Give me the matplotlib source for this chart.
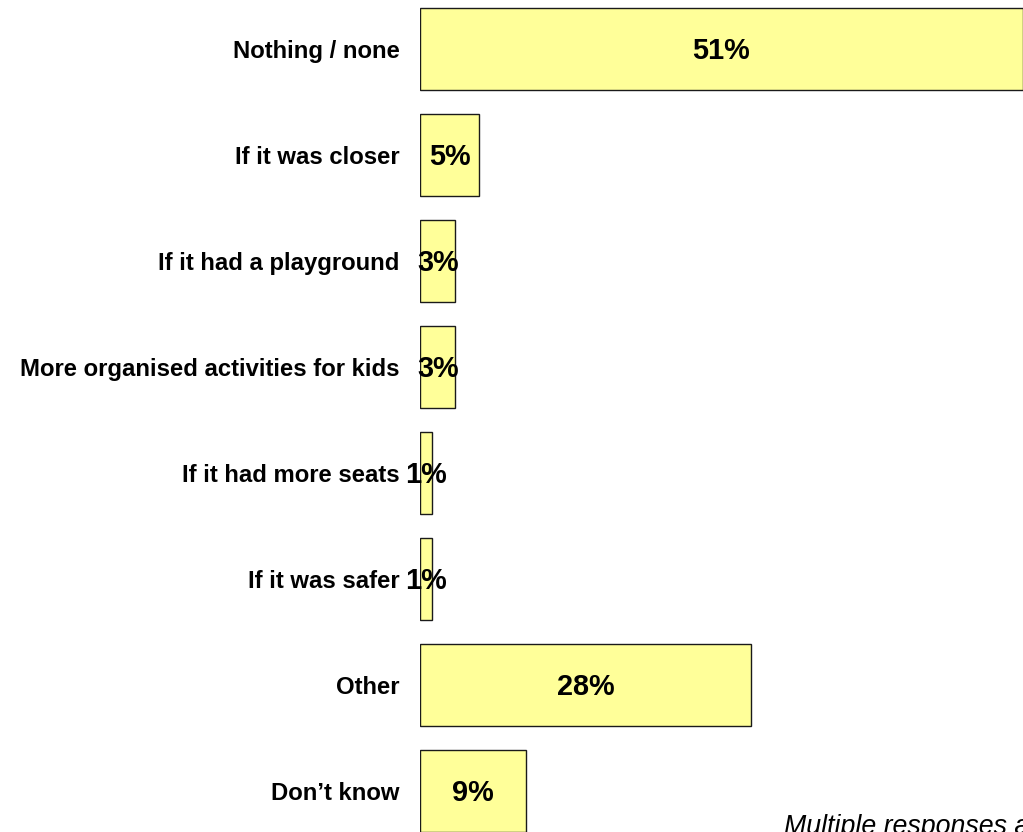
import matplotlib.pyplot as plt

plt.rcParams['font.family'] = ['Liberation Sans', 'DejaVu Sans']

categories = ['Nothing / none', 'If it was closer', 'If it had a playground',
              'More organised activities for kids', 'If it had more seats',
              'If it was safer', 'Other', 'Don\u2019t know']
values = [51, 5, 3, 3, 1, 1, 28, 9]

W, H = 1023, 832
fig = plt.figure(figsize=(W / 100, H / 100), dpi=100)
# axes runs a little past the bottom edge so the last bar gets cut off
ax = fig.add_axes([420 / W, (832 - 844) / H, (1023 - 420) / W, 848 / H])

y = list(range(len(categories)))
ax.barh(y, values, height=0.774, color='#FFFF99', edgecolor='#1a1a1a', linewidth=1.0)

for yi, v in zip(y, values):
    ax.text(v / 2, yi + 0.02, f'{v}%', ha='center', va='center',
            fontsize=20.8, fontweight='bold', color='black')

ax.set_xlim(0, 51)
ax.set_ylim(len(categories) - 0.5, -0.5)
ax.set_yticks(y)
ax.set_yticklabels(categories, fontsize=17.2, fontweight='bold')
ax.tick_params(axis='y', length=0, pad=14.5)
ax.set_xticks([])
for s in ax.spines.values():
    s.set_visible(False)

fig.text(784 / W, -2 / H, 'Multiple responses allowed', fontsize=19.3,
         style='italic', ha='left', va='baseline')

fig.savefig('out.png', dpi=100)
